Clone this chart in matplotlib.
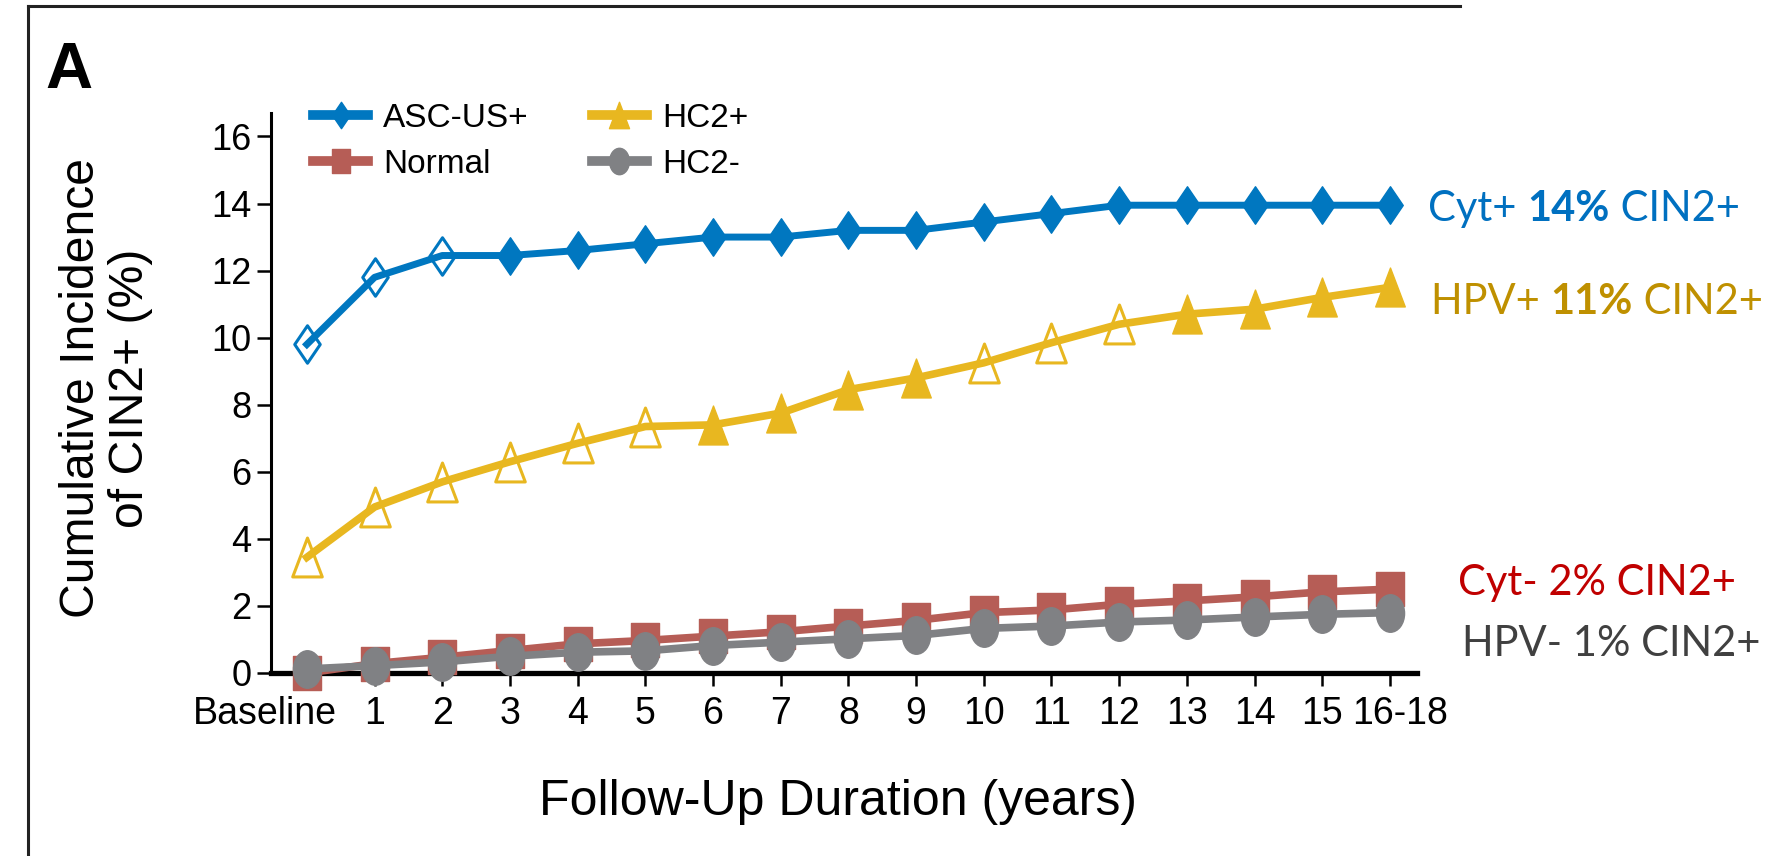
import matplotlib
matplotlib.use('Agg')
import matplotlib.pyplot as plt
from matplotlib import font_manager
from matplotlib.path import Path
from matplotlib.transforms import Affine2D, ScaledTranslation
from matplotlib.lines import Line2D

# data
years = ['Baseline', '1', '2', '3', '4', '5', '6', '7', '8', '9', '10',
         '11', '12', '13', '14', '15', '16-18']
asc_us = [9.8, 11.8, 12.45, 12.45, 12.6, 12.8, 13.0, 13.0, 13.2, 13.2, 13.45,
          13.7, 13.95, 13.95, 13.95, 13.95, 13.95]
hc2_pos = [3.45, 4.95, 5.7, 6.3, 6.85, 7.35, 7.4, 7.75, 8.45, 8.8, 9.25,
           9.85, 10.4, 10.7, 10.85, 11.2, 11.5]
normal = [0.0, 0.28, 0.47, 0.67, 0.87, 0.97, 1.1, 1.23, 1.4, 1.57, 1.8,
          1.88, 2.05, 2.15, 2.27, 2.42, 2.5]
hc2_neg = [0.12, 0.22, 0.33, 0.5, 0.62, 0.66, 0.82, 0.92, 1.02, 1.12, 1.33,
           1.4, 1.52, 1.58, 1.67, 1.75, 1.8]
# which points are drawn hollow
asc_open = [1, 1, 1] + [0] * 14
hc2_open = [1, 1, 1, 1, 1, 1, 0, 0, 0, 0, 1, 1, 1, 0, 0, 0, 0]

have = {f.name for f in font_manager.fontManager.ttflist}
SANS = 'Liberation Sans' if 'Liberation Sans' in have else 'DejaVu Sans'
TAGF = 'Lato' if 'Lato' in have else SANS
plt.rcParams['font.family'] = [SANS, 'DejaVu Sans']

BLUE = '#0077C0'
YELLOW = '#E8B720'
RED = '#B65D56'
GREY = '#808184'


def shape(verts):
    codes = [Path.MOVETO] + [Path.LINETO] * (len(verts) - 1) + [Path.CLOSEPOLY]
    return Path(verts + [verts[0]], codes)


diamond = shape([(0, 1), (0.68, 0), (0, -1), (-0.68, 0)])
triangle = shape([(0, 1), (0.76, -1), (-0.76, -1)])
square = shape([(-0.8, -1), (0.8, -1), (0.8, 1), (-0.8, 1)])
ellipse = Affine2D().scale(0.75, 1.0).transform_path(Path.unit_circle())

fig = plt.figure(figsize=(17.7, 8.56), dpi=100)
ax = fig.add_axes([271 / 1770, 183 / 856, 1146 / 1770, 560 / 856])
x = list(range(len(years)))


def draw(vals, color, marker, ms, lw, hollow=None, z=3):
    ax.plot(x, vals, color=color, lw=lw, zorder=z, clip_on=False,
            solid_joinstyle='round')
    if hollow is None:
        hollow = [0] * len(vals)
    xs_f = [i for i in x if not hollow[i]]
    xs_o = [i for i in x if hollow[i]]
    ax.plot(xs_f, [vals[i] for i in xs_f], ls='none', marker=marker, ms=ms,
            mfc=color, mec=color, mew=1, zorder=z + 0.5, clip_on=False)
    ax.plot(xs_o, [vals[i] for i in xs_o], ls='none', marker=marker, ms=ms,
            mfc='none', mec=color, mew=2.2, zorder=z + 0.5, clip_on=False)


draw(hc2_pos, YELLOW, triangle, 28, 5.5, hc2_open, z=3)
draw(asc_us, BLUE, diamond, 27, 5.0, asc_open, z=4)
draw(normal, RED, square, 25, 5.5, z=5)
draw(hc2_neg, GREY, ellipse, 27, 5.5, z=6)

ax.set_xlim(-0.53, 16.4)
ax.set_ylim(0, 16.7)
ax.set_xticks(x)
ax.set_xticklabels(years)
ax.set_yticks(range(0, 17, 2))
ax.tick_params(axis='y', labelsize=26, length=10, width=1.8, pad=4)
ax.tick_params(axis='x', labelsize=27, length=9.5, width=1.8, pad=7)
for s in ['top', 'right']:
    ax.spines[s].set_visible(False)
ax.spines['left'].set_linewidth(2.2)
ax.spines['bottom'].set_linewidth(3.8)
ax.spines['bottom'].set_zorder(2)

# the first and last tick labels sit a little off their ticks
xl = ax.get_xticklabels()
xl[0].set_transform(xl[0].get_transform() +
                    ScaledTranslation(-0.42, 0, fig.dpi_scale_trans))
xl[-1].set_transform(xl[-1].get_transform() +
                     ScaledTranslation(0.1, 0, fig.dpi_scale_trans))

fig.text(106 / 1770, 1 - 388 / 856, 'Cumulative Incidence\nof CIN2+ (%)',
         rotation=90, ha='center', va='center', multialignment='center',
         fontsize=34.7, linespacing=1.12)
fig.text(838 / 1770, 1 - 815 / 856, 'Follow-Up Duration (years)',
         ha='center', va='baseline', fontsize=36)
fig.text(45 / 1770, 1 - 88 / 856, 'A', fontsize=47, fontweight='bold',
         ha='left', va='baseline')

# legend
handles = [
    Line2D([], [], color=BLUE, lw=7, marker=diamond, ms=19),
    Line2D([], [], color=RED, lw=7, marker=square, ms=17),
    Line2D([], [], color=YELLOW, lw=7, marker=triangle, ms=19),
    Line2D([], [], color=GREY, lw=7, marker=ellipse, ms=19),
]
labels = ['ASC-US+', 'Normal', 'HC2+', 'HC2-']
ax.legend(handles, labels, ncol=2, loc='upper left',
          bbox_to_anchor=(313 / 1770, 1 - 103 / 856),
          bbox_transform=fig.transFigure, frameon=False, fontsize=24,
          handlelength=1.65, handletextpad=0.45, columnspacing=1.9,
          labelspacing=0.45, borderpad=0, borderaxespad=0)


# end labels, with a bold middle piece
def tag(x0, base, parts, color):
    t = fig.text(x0 / 1770, 1 - base / 856, parts[0][0], color=color,
                 fontsize=30, family=TAGF, fontweight=parts[0][1],
                 va='baseline')
    for s, w in parts[1:]:
        t = ax.annotate(s, xy=(1, 0), xycoords=t, va='bottom', color=color,
                        fontsize=30, family=TAGF, fontweight=w)


tag(1428, 221, [('Cyt+ ', 'normal'), ('14%', 'bold'), (' CIN2+', 'normal')],
    '#0070C0')
tag(1431, 314, [('HPV+ ', 'normal'), ('11%', 'bold'), (' CIN2+', 'normal')],
    '#BF9000')
tag(1458, 595, [('Cyt- 2% CIN2+', 'normal')], '#C00000')
tag(1462, 656, [('HPV- 1% CIN2+', 'normal')], '#404040')

# panel frame
fig.add_artist(Line2D([28 / 1770, 1460 / 1770], [1 - 6 / 856, 1 - 6 / 856],
                      transform=fig.transFigure, color='#222222', lw=2.2))
fig.add_artist(Line2D([28 / 1770, 28 / 1770], [1 - 6 / 856, 0],
                      transform=fig.transFigure, color='#222222', lw=2.2))

fig.savefig('out.png', dpi=100)
